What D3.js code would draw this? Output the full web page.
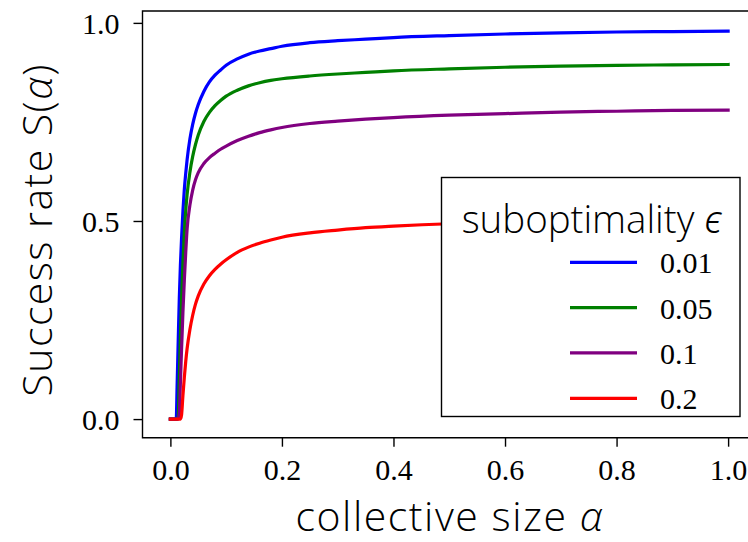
<!DOCTYPE html>
<html>
<head>
<meta charset="utf-8">
<script src="https://cdn.jsdelivr.net/npm/d3@7"></script>
<style>
  html, body { margin: 0; padding: 0; background: #fff; }
  svg { display: block; }
</style>
</head>
<body>
<svg id="chart" width="748" height="542"></svg>
<script>
// Collective size grid (alpha) shared by all curves
const alphaGrid = [0, 0.0105, 0.012, 0.014, 0.016, 0.018, 0.02, 0.0225, 0.025, 0.0275,
  0.03, 0.035, 0.04, 0.045, 0.05, 0.06, 0.07, 0.08, 0.09, 0.1,
  0.12, 0.14, 0.16, 0.18, 0.2, 0.25, 0.3, 0.35, 0.4, 0.5,
  0.6, 0.7, 0.8, 0.9, 1.0];

// Success rate S(alpha) for each suboptimality level
const success001 = [0, 0, 0.08, 0.195, 0.305, 0.39, 0.455, 0.525, 0.58, 0.62,
  0.655, 0.707, 0.744, 0.772, 0.794, 0.827, 0.851, 0.868, 0.881, 0.893,
  0.909, 0.921, 0.929, 0.935, 0.941, 0.950, 0.955, 0.959, 0.963, 0.968,
  0.972, 0.975, 0.977, 0.978, 0.979];
const success005 = [0, 0, 0, 0.005, 0.11, 0.21, 0.30, 0.395, 0.472, 0.526,
  0.567, 0.623, 0.663, 0.693, 0.717, 0.751, 0.774, 0.791, 0.804, 0.815,
  0.830, 0.841, 0.849, 0.855, 0.859, 0.866, 0.871, 0.875, 0.879, 0.884,
  0.888, 0.891, 0.893, 0.894, 0.895];
const success01 = [0, 0, 0, 0, 0.015, 0.093, 0.175, 0.27, 0.35, 0.42,
  0.48, 0.54, 0.578, 0.604, 0.622, 0.645, 0.66, 0.671, 0.681, 0.689,
  0.703, 0.714, 0.723, 0.730, 0.736, 0.746, 0.752, 0.757, 0.761, 0.767,
  0.771, 0.775, 0.777, 0.779, 0.78];
const success02 = [0, 0, 0, 0, 0, 0, 0.01, 0.06, 0.105, 0.145,
  0.178, 0.226, 0.262, 0.29, 0.311, 0.341, 0.362, 0.378, 0.391, 0.402,
  0.421, 0.434, 0.444, 0.452, 0.459, 0.470, 0.477, 0.483, 0.487, 0.493,
  0.496, 0.499, 0.501, 0.503, 0.504];

const epsilonLabels = ["0.01", "0.05", "0.1", "0.2"];
const seriesColors = ["#0000ff", "#008000", "#800080", "#ff0000"];
const seriesValues = [success001, success005, success01, success02];

const xTicks = [0, 0.2, 0.4, 0.6, 0.8, 1.0];
const yTicks = [0, 0.5, 1.0];

const svg = d3.select("#chart");

// Plot area (right edge runs past the window)
const plot = { left: 142.5, right: 756, top: 11, bottom: 437.7 };

const x = d3.scaleLinear().domain([-0.05, 1.05]).range([plot.left, plot.right]);
const y = d3.scaleLinear().domain([-0.047, 1.03]).range([plot.bottom, plot.top]);

const tickFont = "'Liberation Serif', 'Times New Roman', serif";
const labelFont = "'Open Sans', 'Noto Sans', sans-serif";

// Curves
const line = d3.line()
  .x(d => x(d[0]))
  .y(d => y(d[1]))
  .curve(d3.curveMonotoneX);

const curves = svg.append("g");
seriesValues.forEach((vals, i) => {
  curves.append("path")
    .datum(alphaGrid.map((a, j) => [a, vals[j]]))
    .attr("d", line)
    .attr("fill", "none")
    .attr("stroke", seriesColors[i])
    .attr("stroke-width", 3.2)
    .attr("stroke-linecap", "square")
    .attr("stroke-linejoin", "round");
});

// Axes
const xAxis = d3.axisBottom(x).tickValues(xTicks).tickFormat(d3.format(".1f"))
  .tickSizeInner(9).tickSizeOuter(0).tickPadding(12);
const yAxis = d3.axisLeft(y).tickValues(yTicks).tickFormat(d3.format(".1f"))
  .tickSizeInner(9).tickSizeOuter(0).tickPadding(14);

const gx = svg.append("g").attr("transform", `translate(0,${plot.bottom})`).call(xAxis);
const gy = svg.append("g").attr("transform", `translate(${plot.left},0)`).call(yAxis);

[gx, gy].forEach(g => {
  g.select(".domain").remove();
  g.selectAll(".tick line").attr("stroke", "#000").attr("stroke-width", 1.4);
  g.selectAll(".tick text")
    .attr("fill", "#000")
    .style("font-family", tickFont)
    .style("font-size", "30px");
});
gy.selectAll(".tick text").attr("dy", "0.34em");

// Spines: left, bottom, top (right spine lies beyond the window)
svg.append("path")
  .attr("d", `M${plot.right},${plot.top}H${plot.left}V${plot.bottom}H${plot.right}`)
  .attr("fill", "none")
  .attr("stroke", "#000")
  .attr("stroke-width", 1.4);

// Axis labels
const xLabel = svg.append("text")
  .attr("x", 449)
  .attr("y", 530.5)
  .attr("text-anchor", "middle")
  .attr("textLength", 307)
  .attr("lengthAdjust", "spacing")
  .style("font-family", labelFont)
  .style("font-size", "41px")
  .style("font-weight", 300)
  .attr("fill", "#000");
xLabel.append("tspan").text("collective size ");
xLabel.append("tspan").text("α").style("font-style", "italic");

const yLabel = svg.append("text")
  .attr("transform", `translate(52,230.5) rotate(-90)`)
  .attr("text-anchor", "middle")
  .attr("textLength", 332)
  .attr("lengthAdjust", "spacing")
  .style("font-family", labelFont)
  .style("font-size", "41px")
  .style("font-weight", 300)
  .attr("fill", "#000");
yLabel.append("tspan").text("Success rate S(");
yLabel.append("tspan").text("α").style("font-style", "italic");
yLabel.append("tspan").text(")");

// Legend
const legend = svg.append("g");
legend.append("rect")
  .attr("x", 441.5).attr("y", 177.5)
  .attr("width", 298.5).attr("height", 239)
  .attr("fill", "#fff")
  .attr("stroke", "#000")
  .attr("stroke-width", 1.4);

const title = legend.append("text")
  .attr("x", 591.7).attr("y", 233.3)
  .attr("text-anchor", "middle")
  .attr("textLength", 260)
  .attr("lengthAdjust", "spacing")
  .style("font-family", labelFont)
  .style("font-size", "38.5px")
  .style("font-weight", 300)
  .attr("fill", "#000");
title.append("tspan").text("suboptimality ");
title.append("tspan").text("ϵ").style("font-style", "italic");

const legendRow = d3.scaleLinear().domain([0, 3]).range([262.3, 398.3]);
epsilonLabels.forEach((lab, i) => {
  const yy = legendRow(i);
  legend.append("line")
    .attr("x1", 570).attr("x2", 637)
    .attr("y1", yy).attr("y2", yy)
    .attr("stroke", seriesColors[i])
    .attr("stroke-width", 3.2);
  legend.append("text")
    .attr("x", 660).attr("y", yy + 11)
    .style("font-family", tickFont)
    .style("font-size", "30px")
    .attr("fill", "#000")
    .text(lab);
});
</script>
</body>
</html>
